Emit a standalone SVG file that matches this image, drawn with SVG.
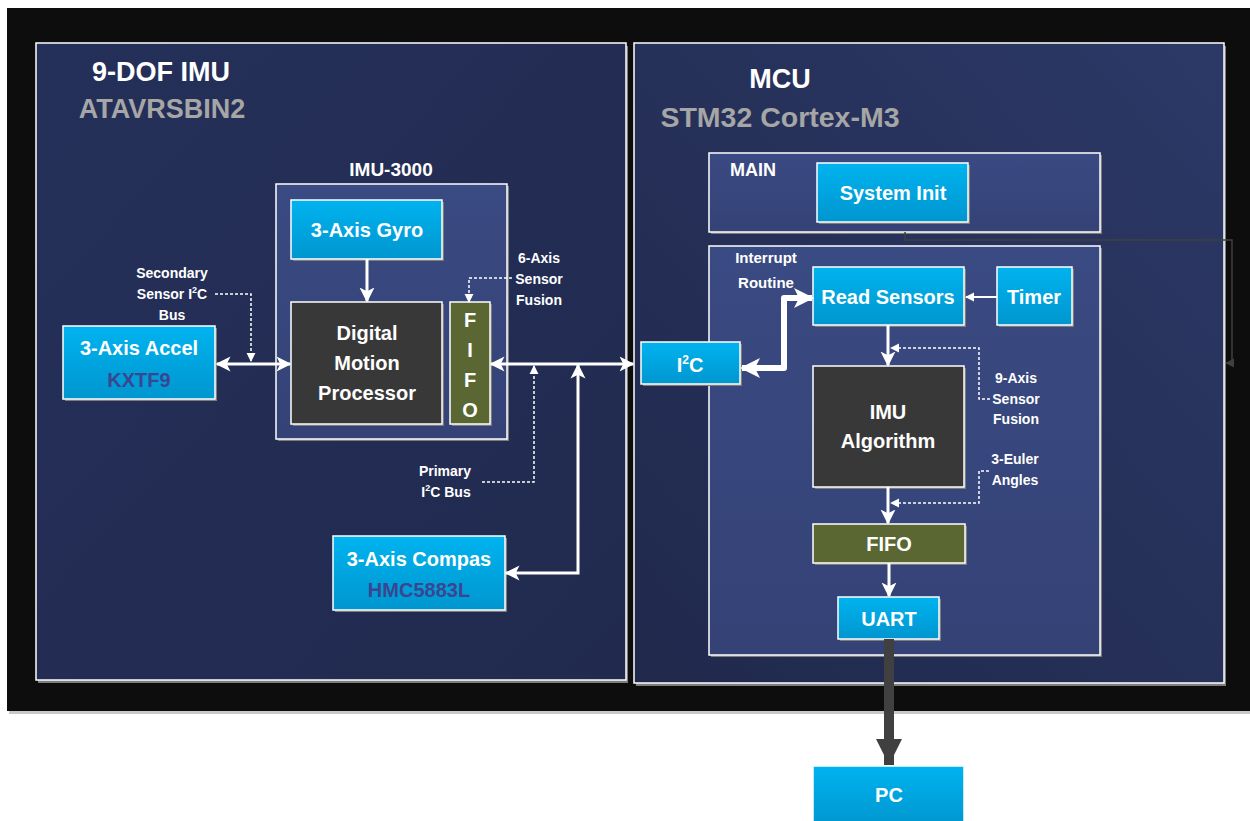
<svg xmlns="http://www.w3.org/2000/svg" width="1250" height="821" viewBox="0 0 1250 821">
<defs>
<linearGradient id="blue" x1="0" y1="0" x2="0" y2="1"><stop offset="0" stop-color="#00b3ef"/><stop offset="1" stop-color="#0096cf"/></linearGradient>
<linearGradient id="panelL" x1="0" y1="0" x2="1" y2="1"><stop offset="0" stop-color="#25305a"/><stop offset="1" stop-color="#212a4e"/></linearGradient>
<linearGradient id="panelR" x1="1" y1="0" x2="0" y2="1"><stop offset="0" stop-color="#2c3866"/><stop offset="1" stop-color="#20294c"/></linearGradient>
<linearGradient id="inner" x1="0" y1="0" x2="0" y2="1"><stop offset="0" stop-color="#3a4a82"/><stop offset="1" stop-color="#344276"/></linearGradient>
<marker id="aw" viewBox="0 0 10 10" refX="9" refY="5" markerUnits="userSpaceOnUse" markerWidth="15" markerHeight="16" orient="auto-start-reverse"><path d="M0,0 L10,5 L0,10 L2.5,5 z" fill="#ffffff"/></marker>
<marker id="awb" viewBox="0 0 10 10" refX="9" refY="5" markerUnits="userSpaceOnUse" markerWidth="20" markerHeight="24" orient="auto-start-reverse"><path d="M0,0 L10,5 L0,10 L2.5,5 z" fill="#ffffff"/></marker>
<marker id="ad" viewBox="0 0 10 10" refX="9" refY="5" markerUnits="userSpaceOnUse" markerWidth="9" markerHeight="10" orient="auto"><path d="M0,0 L10,5 L0,10 z" fill="#ffffff"/></marker>
<marker id="ag" viewBox="0 0 10 10" refX="9" refY="5" markerUnits="userSpaceOnUse" markerWidth="9" markerHeight="11" orient="auto"><path d="M0,0 L10,5 L0,10 z" fill="#404040"/></marker>
<marker id="ak" viewBox="0 0 10 10" refX="10" refY="5" markerUnits="userSpaceOnUse" markerWidth="26" markerHeight="28" orient="auto"><path d="M0,0 L10,5 L0,10 z" fill="#404040"/></marker>
</defs>
<style>
text{font-family:"Liberation Sans",Arial,sans-serif;font-weight:bold;fill:#ffffff}
.sh{fill:#7d7d7d}
.bx{stroke:#ffffff;stroke-width:1.5}
.blue{fill:url(#blue)}
.dark{fill:#383838}
.olive{fill:#5a6732}
.inner{fill:url(#inner)}
.t20{font-size:20px}
.t14{font-size:14px}
.title{font-size:27px}
.sub{font-size:27px;fill:#a6a6a6}
.part{font-size:20px;fill:#3b4690}
.ln{fill:none;stroke:#ffffff;stroke-width:3}
.dash{fill:none;stroke:#ffffff;stroke-width:1.5;stroke-dasharray:3 2}
</style>
<rect width="1250" height="821" fill="#ffffff"/>
<rect x="9" y="10" width="1243" height="704" fill="#c9c9c9"/>
<rect x="7" y="8" width="1243" height="703" fill="#0d0d0d"/>

<g id="panel-imu">
<rect x="38" y="46" width="590" height="637" class="sh"/>
<rect x="36" y="43" width="590" height="637" fill="url(#panelL)" class="bx"/>
<text x="161" y="81" text-anchor="middle" class="title">9-DOF IMU</text>
<text x="162" y="118" text-anchor="middle" class="sub">ATAVRSBIN2</text>
</g>
<g id="panel-mcu">
<rect x="636" y="46" width="590" height="640" class="sh"/>
<rect x="634" y="43" width="590" height="640" fill="url(#panelR)" class="bx"/>
<text x="780" y="88" text-anchor="middle" class="title">MCU</text>
<text x="780" y="127" text-anchor="middle" class="sub" style="font-size:28.5px">STM32 Cortex-M3</text>
</g>
<g id="imu3000">
<rect x="278" y="186" width="231" height="255" class="sh"/>
<rect x="276" y="184" width="231" height="255" class="inner bx"/>
<text x="391" y="176" text-anchor="middle" style="font-size:19px">IMU-3000</text>
</g>
<g id="main">
<rect x="711" y="155" width="391" height="79" class="sh"/>
<rect x="709" y="153" width="391" height="79" class="inner bx"/>
<text x="730" y="176" style="font-size:18px">MAIN</text>
</g>
<g id="interrupt">
<rect x="711" y="248" width="391" height="409" class="sh"/>
<rect x="709" y="246" width="391" height="409" class="inner bx"/>
<text x="766" y="263" text-anchor="middle" style="font-size:15px">Interrupt</text>
<text x="766" y="288" text-anchor="middle" style="font-size:15px">Routine</text>
</g>

<g id="gyro">
<rect x="293" y="202" width="151" height="59" class="sh"/>
<rect x="291" y="200" width="151" height="59" class="blue bx"/>
<text x="367" y="237" text-anchor="middle" class="t20">3-Axis Gyro</text>
</g>
<g id="dmp">
<rect x="293" y="304" width="151" height="122" class="sh"/>
<rect x="291" y="302" width="151" height="122" class="dark bx"/>
<text x="367" y="340" text-anchor="middle" class="t20">Digital</text>
<text x="367" y="370" text-anchor="middle" class="t20">Motion</text>
<text x="367" y="400" text-anchor="middle" class="t20">Processor</text>
</g>
<g id="fifo-imu">
<rect x="452" y="304" width="40" height="122" class="sh"/>
<rect x="450" y="302" width="40" height="122" class="olive bx"/>
<text x="470" y="327" text-anchor="middle" class="t20">F</text>
<text x="470" y="357" text-anchor="middle" class="t20">I</text>
<text x="470" y="387" text-anchor="middle" class="t20">F</text>
<text x="470" y="417" text-anchor="middle" class="t20">O</text>
</g>
<g id="accel">
<rect x="65" y="328" width="152" height="73" class="sh"/>
<rect x="63" y="326" width="152" height="73" class="blue bx"/>
<text x="139" y="355" text-anchor="middle" class="t20">3-Axis Accel</text>
<text x="139" y="387" text-anchor="middle" class="part">KXTF9</text>
</g>
<g id="compass">
<rect x="335" y="538" width="172" height="74" class="sh"/>
<rect x="333" y="536" width="172" height="74" class="blue bx"/>
<text x="419" y="566" text-anchor="middle" class="t20">3-Axis Compas</text>
<text x="419" y="597" text-anchor="middle" class="part">HMC5883L</text>
</g>
<g id="system-init">
<rect x="819" y="165" width="151" height="59" class="sh"/>
<rect x="817" y="163" width="151" height="59" class="blue bx"/>
<text x="893" y="200" text-anchor="middle" class="t20">System Init</text>
</g>
<g id="i2c">
<rect x="643" y="344" width="99" height="42" class="sh"/>
<rect x="641" y="342" width="99" height="42" class="blue bx"/>
<text x="690" y="372" text-anchor="middle" class="t20">I<tspan dy="-8" style="font-size:12px">2</tspan><tspan dy="8">C</tspan></text>
</g>
<g id="read-sensors">
<rect x="815" y="269" width="151" height="58" class="sh"/>
<rect x="813" y="267" width="151" height="58" class="blue bx"/>
<text x="888" y="304" text-anchor="middle" class="t20">Read Sensors</text>
</g>
<g id="timer">
<rect x="999" y="269" width="75" height="58" class="sh"/>
<rect x="997" y="267" width="75" height="58" class="blue bx"/>
<text x="1034" y="304" text-anchor="middle" class="t20">Timer</text>
</g>
<g id="imu-algorithm">
<rect x="815" y="368" width="151" height="121" class="sh"/>
<rect x="813" y="366" width="151" height="121" class="dark bx"/>
<text x="888" y="419" text-anchor="middle" class="t20">IMU</text>
<text x="888" y="448" text-anchor="middle" class="t20">Algorithm</text>
</g>
<g id="fifo-mcu">
<rect x="815" y="526" width="152" height="39" class="sh"/>
<rect x="813" y="524" width="152" height="39" class="olive bx"/>
<text x="889" y="551" text-anchor="middle" class="t20">FIFO</text>
</g>
<g id="uart">
<rect x="840" y="599" width="101" height="42" class="sh"/>
<rect x="838" y="597" width="101" height="42" class="blue bx"/>
<text x="889" y="626" text-anchor="middle" class="t20">UART</text>
</g>
<g id="pc">
<rect x="813" y="766" width="151" height="60" class="blue bx"/>
<text x="889" y="802" text-anchor="middle" class="t20">PC</text>
</g>

<g id="labels">
<text x="172" y="278" text-anchor="middle" class="t14">Secondary</text>
<text x="172" y="299" text-anchor="middle" class="t14">Sensor I<tspan dy="-6" style="font-size:9px">2</tspan><tspan dy="6">C</tspan></text>
<text x="172" y="320" text-anchor="middle" class="t14">Bus</text>
<text x="539" y="263" text-anchor="middle" class="t14">6-Axis</text>
<text x="539" y="284" text-anchor="middle" class="t14">Sensor</text>
<text x="539" y="305" text-anchor="middle" class="t14">Fusion</text>
<text x="445" y="476" text-anchor="middle" class="t14">Primary</text>
<text x="446" y="497" text-anchor="middle" class="t14">I<tspan dy="-6" style="font-size:9px">2</tspan><tspan dy="6">C Bus</tspan></text>
<text x="1016" y="383" text-anchor="middle" class="t14">9-Axis</text>
<text x="1016" y="404" text-anchor="middle" class="t14">Sensor</text>
<text x="1016" y="424" text-anchor="middle" class="t14">Fusion</text>
<text x="1015" y="464" text-anchor="middle" class="t14">3-Euler</text>
<text x="1015" y="485" text-anchor="middle" class="t14">Angles</text>
</g>

<g id="connectors">
<path d="M905,232 V240 H1232 V363 H1226" fill="none" stroke="#404040" stroke-width="1.5" marker-end="url(#ag)"/>
<path d="M367,259 V301" class="ln" marker-end="url(#aw)"/>
<path d="M217,364 H290" class="ln" marker-start="url(#aw)" marker-end="url(#aw)"/>
<path d="M491,364 H633" class="ln" marker-start="url(#aw)" marker-end="url(#aw)"/>
<path d="M578,365 V573 H506" class="ln" marker-start="url(#aw)" marker-end="url(#aw)"/>
<path d="M742,368 H784 V298 H812" fill="none" stroke="#ffffff" stroke-width="6" stroke-linejoin="round" marker-start="url(#awb)" marker-end="url(#awb)"/>
<path d="M997,297 H966" fill="none" stroke="#ffffff" stroke-width="2" marker-end="url(#ad)"/>
<path d="M888,325 V365" class="ln" marker-end="url(#aw)"/>
<path d="M888,487 V523" class="ln" marker-end="url(#aw)"/>
<path d="M889,563 V596" class="ln" marker-end="url(#aw)"/>
<path d="M889,639 V765" fill="none" stroke="#404040" stroke-width="10" marker-end="url(#ak)"/>
<path d="M215,294 H251 V361" class="dash" marker-end="url(#ad)"/>
<path d="M512,278 H469 V302" class="dash" marker-end="url(#ad)"/>
<path d="M482,482 H534 V366" class="dash" marker-end="url(#ad)"/>
<path d="M990,399 H979 V348 H891" class="dash" marker-end="url(#ad)"/>
<path d="M989,471 H979 V503 H891" class="dash" marker-end="url(#ad)"/>
</g>
</svg>
